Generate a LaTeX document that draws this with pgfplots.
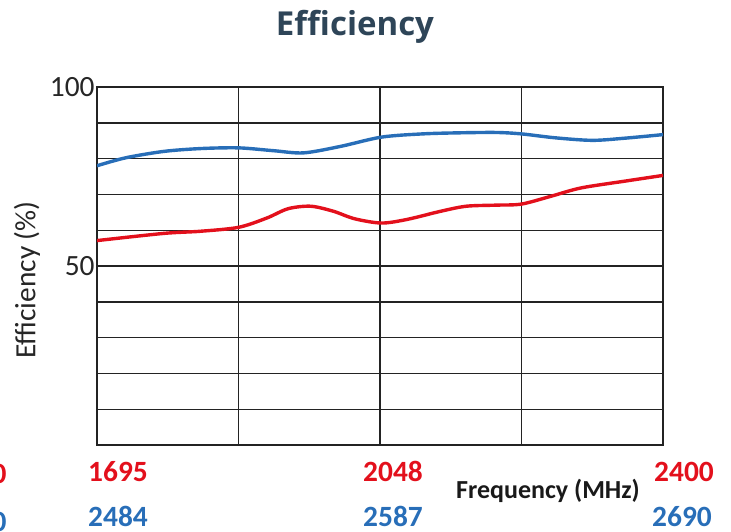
\documentclass[border=0pt]{standalone}
\usepackage{fontspec}
\setmainfont{Carlito}
\newfontfamily\titlefont{Open Sans}
\usepackage{pgfplots}
\usepackage{pgfplotstable}
\pgfplotsset{compat=1.18}
\definecolor{effred}{RGB}{227,16,28}
\definecolor{effblue}{RGB}{40,110,184}
\definecolor{titleslate}{RGB}{46,69,88}
\definecolor{gridk}{RGB}{35,35,35}
\newcommand\lbl{\fontsize{14.7}{16}\selectfont}

% x: 0..4 = the four grid columns, y: efficiency in %
\pgfplotstableread{
x y
0.00 78.0
0.20 80.2
0.47 82.0
0.73 82.8
1.00 83.0
1.25 82.2
1.46 81.6
1.72 83.4
2.01 86.0
2.30 86.9
2.56 87.2
2.82 87.3
3.00 86.9
3.24 85.8
3.50 85.1
3.73 85.7
4.00 86.7
}\highband

\pgfplotstableread{
x y
0.00 57.1
0.47 59.1
0.73 59.7
1.00 60.8
1.20 63.4
1.35 66.0
1.51 66.7
1.67 65.3
1.82 63.2
2.01 62.0
2.19 63.0
2.43 65.3
2.61 66.7
2.82 67.0
3.00 67.3
3.21 69.5
3.42 71.8
3.73 73.7
4.00 75.3
}\lowband

\begin{document}
\begin{tikzpicture}
\useasboundingbox (0,0) rectangle (365.5pt,265.5pt);
\begin{axis}[at={(48.5pt,43pt)},anchor=south west,scale only axis,width=283pt,height=179pt,
  xmin=0,xmax=4,ymin=0,ymax=100,xtick={0,1,2,3,4},xticklabels={},
  ytick={0,10,...,100},yticklabels={,,,,,50,,,,,100},
  grid=major,major grid style={gridk,line width=0.7pt},axis line style={gridk,line width=0.7pt},
  major tick length=0pt,tick style={draw=none},
  tick label style={font=\lbl,text=black!85},yticklabel style={inner sep=1pt},
  /pgf/number format/assume math mode=true]
\addplot[effblue,line width=1.7pt,smooth] table {\highband};
\addplot[effred,line width=1.7pt,smooth] table {\lowband};
\end{axis}
\node[anchor=base,text=titleslate,inner sep=0pt] at (177.5pt,247.5pt) {\titlefont\bfseries\fontsize{16.5}{18}\selectfont Efficiency};
\node[rotate=90,text=black!85,inner sep=0pt] at (13.5pt,125.5pt) {\lbl Efficiency (\%)};
\begin{scope}[every node/.style={anchor=base,inner sep=0pt,font=\lbl\bfseries}]
\node[text=effred] at (59pt,25pt) {1695};
\node[text=effred] at (196.5pt,25pt) {2048};
\node[text=effred] at (342pt,25pt) {2400};
\node[text=effblue] at (59pt,2.5pt) {2484};
\node[text=effblue] at (196.5pt,2.5pt) {2587};
\node[text=effblue] at (341pt,2.5pt) {2690};
\node[text=effred,anchor=base east] at (3.5pt,24pt) {0};
\node[text=effblue,anchor=base east] at (3.5pt,0pt) {0};
\node[text=black!90] at (274pt,16.5pt) {\fontsize{13}{15}\selectfont\bfseries Frequency (MHz)};
\end{scope}
\end{tikzpicture}
\end{document}
